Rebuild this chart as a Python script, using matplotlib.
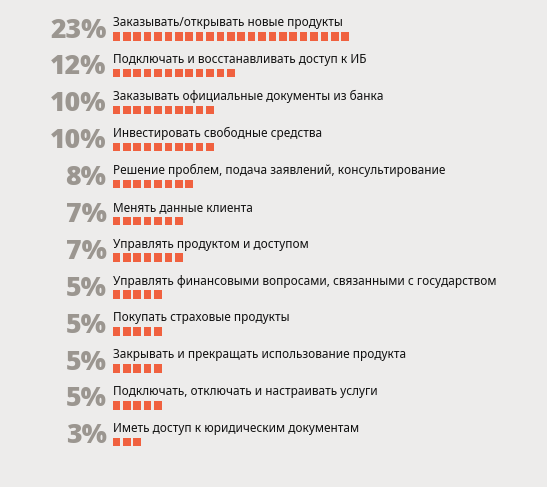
import matplotlib.pyplot as plt
from matplotlib.patches import Rectangle

labels = [
    "Заказывать/открывать новые продукты",
    "Подключать и восстанавливать доступ к ИБ",
    "Заказывать официальные документы из банка",
    "Инвестировать свободные средства",
    "Решение проблем, подача заявлений, консультирование",
    "Менять данные клиента",
    "Управлять продуктом и доступом",
    "Управлять финансовыми вопросами, связанными с государством",
    "Покупать страховые продукты",
    "Закрывать и прекращать использование продукта",
    "Подключать, отключать и настраивать услуги",
    "Иметь доступ к юридическим документам",
]
values = [23, 12, 10, 10, 8, 7, 7, 5, 5, 5, 5, 3]

bg = "#edeceb"
orange = "#f0613f"
grey = "#9b9690"

W, H = 547, 487
fig = plt.figure(figsize=(W / 100, H / 100), dpi=100, facecolor=bg)
ax = fig.add_axes([0, 0, 1, 1])
ax.set_xlim(0, W)
ax.set_ylim(H, 0)
ax.axis("off")
ax.set_facecolor(bg)

x0 = 112.5
step = 10.4
row0 = 32.0
row_h = 36.9

for k, (lab, v) in enumerate(zip(labels, values)):
    top = row0 + k * row_h
    for i in range(v):
        ax.add_patch(Rectangle((x0 + i * step, top), 7.6, 8.5, color=orange, lw=0))
    ax.text(x0 + 0.5, top - 5.7, lab, fontsize=8.5, family="Noto Sans",
            color="#111111", va="baseline", ha="left")
    ax.text(106.5, top + 5.5, f"{v}%", fontsize=19.2, family="Open Sans",
            fontweight=800, color=grey, va="baseline", ha="right")

fig.savefig("out.png", dpi=100, facecolor=bg)
